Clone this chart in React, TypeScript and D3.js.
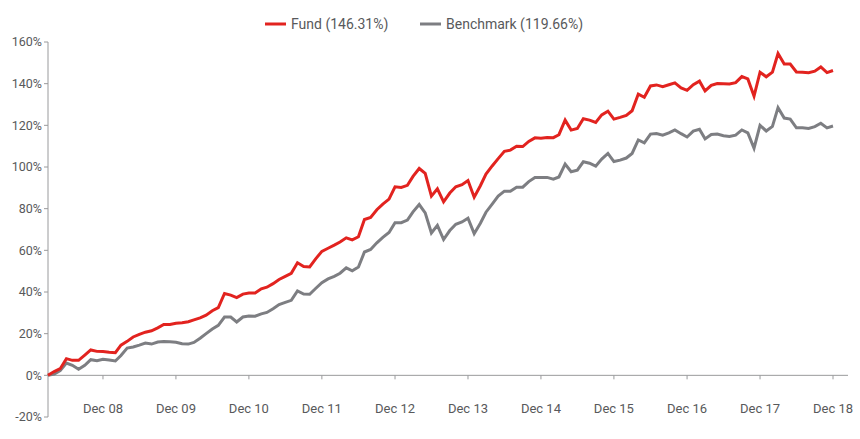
import React from "react";
import * as d3 from "d3";

const fundValues: number[] = [
  0, 1.8, 3.2, 8, 7.2, 7.2, 9.7, 12.2, 11.5, 11.4,
  11.1, 10.9, 14.5, 16.3, 18.4, 19.7, 20.7, 21.4, 22.8, 24.4,
  24.4, 25, 25.2, 25.7, 26.6, 27.6, 28.9, 31, 32.5, 39.3,
  38.5, 37.3, 39, 39.5, 39.5, 41.5, 42.3, 44, 46, 47.5,
  49, 54, 52.2, 52, 56, 59.5, 61, 62.5, 64, 66,
  65, 66.5, 74.8, 75.8, 79.5, 82.2, 84.6, 90.5, 90.2, 91.2,
  95.5, 99.3, 97, 86, 89.5, 83.3, 87.5, 90.5, 91.5, 93.5,
  85.5, 91, 96.6, 100.5, 104, 107.5, 108.1, 110, 109.8, 112.3,
  114, 113.8, 114.2, 114.1, 115.5, 122.5, 117.7, 118.5, 123.2, 122.5,
  121.4, 125, 126.8, 123, 123.8, 124.8, 127, 135, 133.5, 138.9,
  139.4, 138.6, 139.5, 140.4, 138, 136.8, 139.5, 141.2, 136.5, 139.2,
  140.1, 140, 139.8, 140.5, 143.4, 142.3, 134, 145.5, 143.3, 145.5,
  154.5, 149.4, 149.4, 145.6, 145.5, 145.3, 146, 148, 145.3, 146.31,
];

const benchValues: number[] = [
  0, 0.6, 2.3, 5.9, 4.8, 2.9, 4.8, 7.5, 7, 7.7,
  7.4, 6.9, 9.5, 13.1, 13.6, 14.5, 15.5, 15, 16, 16.2,
  16.1, 15.9, 15.2, 15, 15.8, 17.8, 20, 22.2, 24, 28,
  28, 25.6, 28, 28.5, 28.4, 29.5, 30.2, 32, 34, 35,
  36, 40.5, 39, 38.9, 41.8, 44.5, 46.3, 47.5, 49, 51.6,
  50.2, 52, 59.2, 60.4, 63.6, 66.2, 68.6, 73.3, 73.3, 74.5,
  78.5, 82, 78, 68.3, 72, 65.2, 69.5, 72.5, 73.6, 75.4,
  68, 73, 78.3, 82.2, 86, 88.4, 88.4, 90.3, 90.3, 93,
  95, 95, 95, 94.2, 95.2, 101.4, 97.7, 98.5, 102.5, 101.8,
  100.4, 103.8, 106.5, 102.6, 103.3, 104.3, 106.5, 113, 111.6, 115.8,
  116.1, 115.3, 116.4, 117.8, 116, 114.4, 117.2, 118.1, 113.5, 115.6,
  115.8, 115, 114.7, 115.3, 117.8, 116.4, 109, 120, 117.3, 119.5,
  128.5, 123.5, 123, 118.8, 118.8, 118.5, 119.4, 121, 118.8, 119.66,
];

const startYear = 2008;
const startMonth = 2; // March (0-based)
const dates: Date[] = fundValues.map((_, i) => new Date(startYear, startMonth + i, 1));

const xTickYears: number[] = [2008, 2009, 2010, 2011, 2012, 2013, 2014, 2015, 2016, 2017, 2018];
const yTicks: number[] = [-20, 0, 20, 40, 60, 80, 100, 120, 140, 160];

const seriesNames = ["Fund (146.31%)", "Benchmark (119.66%)"];
const seriesColors = ["#e2231f", "#7d7e82"];

const W = 860;
const H = 439;
const FONT = "Roboto, 'DejaVu Sans', sans-serif";

export default function App() {
  const x = d3
    .scaleTime()
    .domain([dates[0], new Date(2018, 11, 1)])
    .range([48, 833]);
  const y = d3.scaleLinear().domain([-20, 160]).range([417, 42]);

  const line = d3
    .line<number>()
    .x((_, i) => x(dates[i]))
    .y((d) => y(d));

  const axisColor = "#999a9c";
  const textColor = "#58595b";

  return (
    <svg
      width={W}
      height={H}
      style={{ position: "absolute", left: 0, top: 0, background: "#fff" }}
      fontFamily={FONT}
    >
      {/* Y axis */}
      <line x1={48} x2={48} y1={y(160)} y2={y(-20)} stroke={axisColor} strokeWidth={1} />
      {yTicks.map((t) => (
        <g key={t}>
          <line x1={44} x2={48} y1={y(t)} y2={y(t)} stroke={axisColor} strokeWidth={1} />
          <text
            x={42}
            y={y(t)}
            dy="0.35em"
            textAnchor="end"
            fontSize={12.5}
            fill={textColor}
          >
            {`${t}%`}
          </text>
        </g>
      ))}
      {/* X axis at 0 */}
      <line x1={48} x2={848} y1={y(0)} y2={y(0)} stroke={axisColor} strokeWidth={1} />
      {xTickYears.map((yr) => {
        const xp = x(new Date(yr, 11, 1));
        return (
          <g key={yr}>
            <line x1={xp} x2={xp} y1={y(0)} y2={y(0) + 4} stroke={axisColor} strokeWidth={1} />
            <text x={xp} y={413} textAnchor="middle" fontSize={13} fill={textColor}>
              {`Dec ${String(yr % 100).padStart(2, "0")}`}
            </text>
          </g>
        );
      })}
      {/* Lines */}
      <path d={line(benchValues) || ""} fill="none" stroke={seriesColors[1]} strokeWidth={3} strokeLinejoin="miter" />
      <path d={line(fundValues) || ""} fill="none" stroke={seriesColors[0]} strokeWidth={3} strokeLinejoin="miter" />
      {/* Legend */}
      <g>
        <line x1={265} x2={286} y1={24} y2={24} stroke={seriesColors[0]} strokeWidth={3} />
        <text x={291} y={24} dy="0.35em" fontSize={14} fill={textColor}>
          {seriesNames[0]}
        </text>
        <line x1={420} x2={441} y1={24} y2={24} stroke={seriesColors[1]} strokeWidth={3} />
        <text x={446} y={24} dy="0.35em" fontSize={14} fill={textColor}>
          {seriesNames[1]}
        </text>
      </g>
    </svg>
  );
}
